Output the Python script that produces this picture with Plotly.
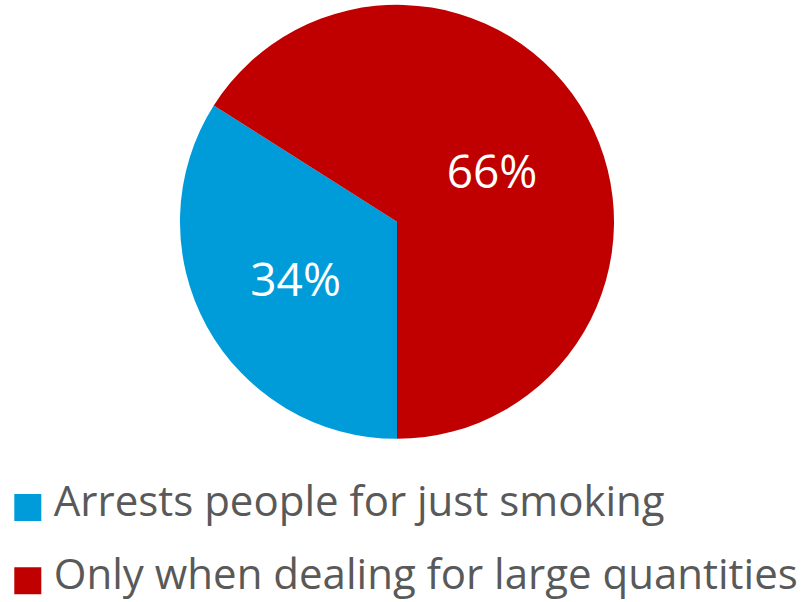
import plotly.graph_objects as go

labels = ["Arrests people for just smoking", "Only when dealing for large quantities"]
values = [34, 66]
colors = ["#009CDA", "#C00000"]

# legend row height comes from legend font size, so the visible text is set smaller in a span
legend_labels = ['<span style="font-size:42px">%s</span>' % t for t in labels]

fig = go.Figure()
fig.add_trace(go.Pie(
    labels=legend_labels,
    values=values,
    sort=False,
    direction="clockwise",
    rotation=180,
    marker=dict(colors=colors, line=dict(width=0)),
    texttemplate="%{percent:.0%}",
    textposition="inside",
    insidetextfont=dict(color="white", size=46, family="Open Sans"),
    hovertemplate="%{value}%<extra></extra>",
    domain=dict(x=[0, 0.99], y=[0.271, 0.992]),
))
fig.update_layout(
    width=802, height=602,
    margin=dict(l=0, r=0, t=0, b=0, autoexpand=False),
    paper_bgcolor="white",
    showlegend=True,
    legend=dict(
        x=0.0172, y=0.2476, xanchor="left", yanchor="top",
        font=dict(size=54, color="#595959", family="Open Sans"),
        traceorder="normal",
    ),
)

# no page margin, and bigger square legend swatches like the original
post = """
document.body.style.margin = '0';
document.querySelectorAll('.legendpoints path').forEach(function(p){
  p.setAttribute('transform', 'translate(14,13) scale(2.25)');
});
"""
fig.write_html("out.html", post_script=post, config={"displayModeBar": False})
